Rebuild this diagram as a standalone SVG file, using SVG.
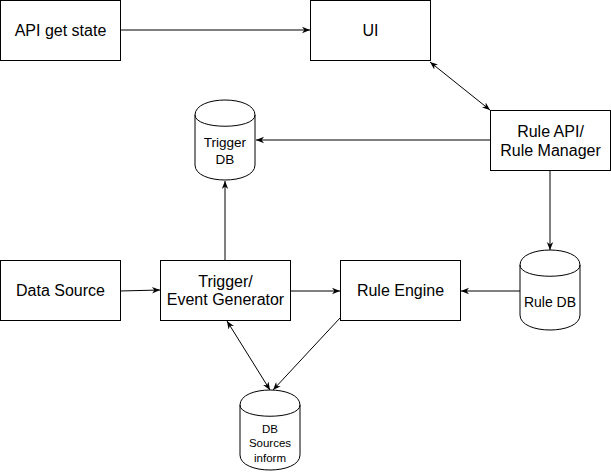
<svg xmlns="http://www.w3.org/2000/svg" width="611" height="472" viewBox="0 0 611 472">
<defs>
<marker id="arr" viewBox="0 0 10 10" refX="10" refY="5" markerWidth="8" markerHeight="8" markerUnits="userSpaceOnUse" orient="auto-start-reverse">
<path d="M0,1 L10,5 L0,9 L3,5 z" fill="#000"/>
</marker>
</defs>
<style>
.box{fill:#fff;stroke:#000;stroke-width:1}
.cyl{fill:#fff;stroke:#000;stroke-width:1}
.t{font-family:"Liberation Sans",Arial,sans-serif;font-size:16px;fill:#000;text-anchor:middle}
.ts{font-family:"Liberation Sans",Arial,sans-serif;font-size:13.5px;fill:#000;text-anchor:middle}
.tr{font-family:"Liberation Sans",Arial,sans-serif;font-size:14px;fill:#000;text-anchor:middle}
.tx{font-family:"Liberation Sans",Arial,sans-serif;font-size:11.5px;fill:#000;text-anchor:middle}
.c{fill:none;stroke:#000;stroke-width:1}
</style>
<rect width="611" height="472" fill="#fff"/>
<g id="connectors">
<path class="c" d="M120,30 H310" marker-end="url(#arr)"/>
<path class="c" d="M430,62 L490,110" marker-start="url(#arr)" marker-end="url(#arr)"/>
<path class="c" d="M490,140 H256" marker-end="url(#arr)"/>
<path class="c" d="M550,170 V250" marker-end="url(#arr)"/>
<path class="c" d="M120,291 L160,290" marker-end="url(#arr)"/>
<path class="c" d="M225,260 V181" marker-end="url(#arr)"/>
<path class="c" d="M290,291 H340" marker-end="url(#arr)"/>
<path class="c" d="M520,291 H461" marker-end="url(#arr)"/>
<path class="c" d="M227,321 L270,390" marker-start="url(#arr)" marker-end="url(#arr)"/>
<path class="c" d="M340,318 L273,390" marker-end="url(#arr)"/>
</g>
<g id="api-get-state">
<rect class="box" x="0.5" y="0.5" width="120" height="60"/>
<text class="t" x="60.5" y="36">API get state</text>
</g>
<g id="ui">
<rect class="box" x="310.5" y="0.5" width="120" height="60"/>
<text class="t" x="370.5" y="36">UI</text>
</g>
<g id="rule-api">
<rect class="box" x="490.5" y="110.5" width="120" height="60"/>
<text class="t" x="550.5" y="137">Rule API/</text>
<text class="t" x="550.5" y="156">Rule Manager</text>
</g>
<g id="trigger-db">
<path class="cyl" d="M195,115 C195,95 255,95 255,115 V165 C255,185 195,185 195,165 Z"/>
<path class="c" d="M195,115 C195,130 255,130 255,115"/>
<text class="ts" x="225" y="147">Trigger</text>
<text class="ts" x="225" y="164">DB</text>
</g>
<g id="data-source">
<rect class="box" x="0.5" y="260.5" width="120" height="60"/>
<text class="t" x="60.5" y="296">Data Source</text>
</g>
<g id="trigger">
<rect class="box" x="160.5" y="260.5" width="130" height="60"/>
<text class="t" x="225.5" y="287">Trigger/</text>
<text class="t" x="225.5" y="305">Event Generator</text>
</g>
<g id="rule-engine">
<rect class="box" x="340.5" y="260.5" width="120" height="60"/>
<text class="t" x="400.5" y="296">Rule Engine</text>
</g>
<g id="rule-db">
<path class="cyl" d="M520,265 C520,245 580,245 580,265 V315 C580,335 520,335 520,315 Z"/>
<path class="c" d="M520,265 C520,280 580,280 580,265"/>
<text class="tr" x="550" y="307">Rule DB</text>
</g>
<g id="db-sources">
<path class="cyl" d="M240,405 C240,385 300,385 300,405 V455 C300,475 240,475 240,455 Z"/>
<path class="c" d="M240,405 C240,420 300,420 300,405"/>
<text class="tx" x="270" y="433">DB</text>
<text class="tx" x="270" y="447">Sources</text>
<text class="tx" x="270" y="462">inform</text>
</g>
</svg>
